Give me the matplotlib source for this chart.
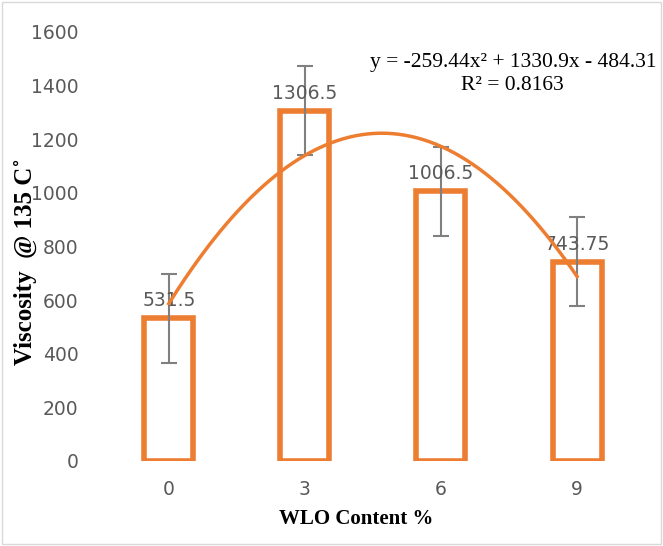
import numpy as np
import matplotlib.pyplot as plt
from matplotlib.patches import Rectangle

categories = ["0", "3", "6", "9"]
viscosity = [531.5, 1306.5, 1006.5, 743.75]
errors = [167, 167, 166, 166]
labels = ["531.5", "1306.5", "1006.5", "743.75"]
# trendline coefficients (x = 1..4 series index)
trend = [-259.44, 1330.9, -484.31]

orange = "#ED7D31"
gray = "#808080"

fig = plt.figure(figsize=(6.63, 5.46), dpi=100)
ax = fig.add_axes([0.152, 0.1557, 0.821, 0.7857])

pos = np.arange(len(categories))
ax.bar(pos, viscosity, width=0.36, facecolor="white", edgecolor=orange,
       linewidth=4, zorder=2)
ax.errorbar(pos, viscosity, yerr=errors, fmt="none", ecolor=gray,
            elinewidth=1.5, capsize=6, capthick=1.5, zorder=3)

for p, v, t in zip(pos, viscosity, labels):
    ax.text(p, v + 30, t, ha="center", va="bottom", fontsize=13.5,
            color="#595959", family="DejaVu Sans", zorder=4)

xs = np.linspace(1, 4, 200)
ys = np.polyval(trend, xs)
ax.plot(xs - 1, ys, color=orange, linewidth=2.5, zorder=5)

ax.set_xlim(-0.5, 3.5)
ax.set_ylim(0, 1600)
ax.set_yticks(range(0, 1601, 200))
ax.set_xticks(pos)
ax.set_xticklabels(categories)
for s in ax.spines.values():
    s.set_visible(False)
ax.tick_params(length=0, labelsize=13.5, labelcolor="#595959")
ax.tick_params(axis="y", pad=16)
ax.tick_params(axis="x", pad=14)

ax.set_ylabel("Viscosity  @ 135 C˚", family="Liberation Serif",
              fontweight="bold", fontsize=18)
ax.yaxis.set_label_coords(-0.117, 0.465)
ax.set_xlabel("WLO Content %", family="Liberation Serif",
              fontweight="bold", fontsize=15)
ax.xaxis.set_label_coords(0.47, -0.113)

fig.text(0.774, 0.886, "y = -259.44x² + 1330.9x - 484.31", ha="center",
         va="center", family="Liberation Serif", fontsize=15.5)
fig.text(0.773, 0.844, "R² = 0.8163", ha="center", va="center",
         family="Liberation Serif", fontsize=15.5)

fig.patches.append(Rectangle((0.003, 0.003), 0.994, 0.994,
                             transform=fig.transFigure, fill=False,
                             edgecolor="#D9D9D9", linewidth=1))

fig.savefig("out.png", dpi=100)
